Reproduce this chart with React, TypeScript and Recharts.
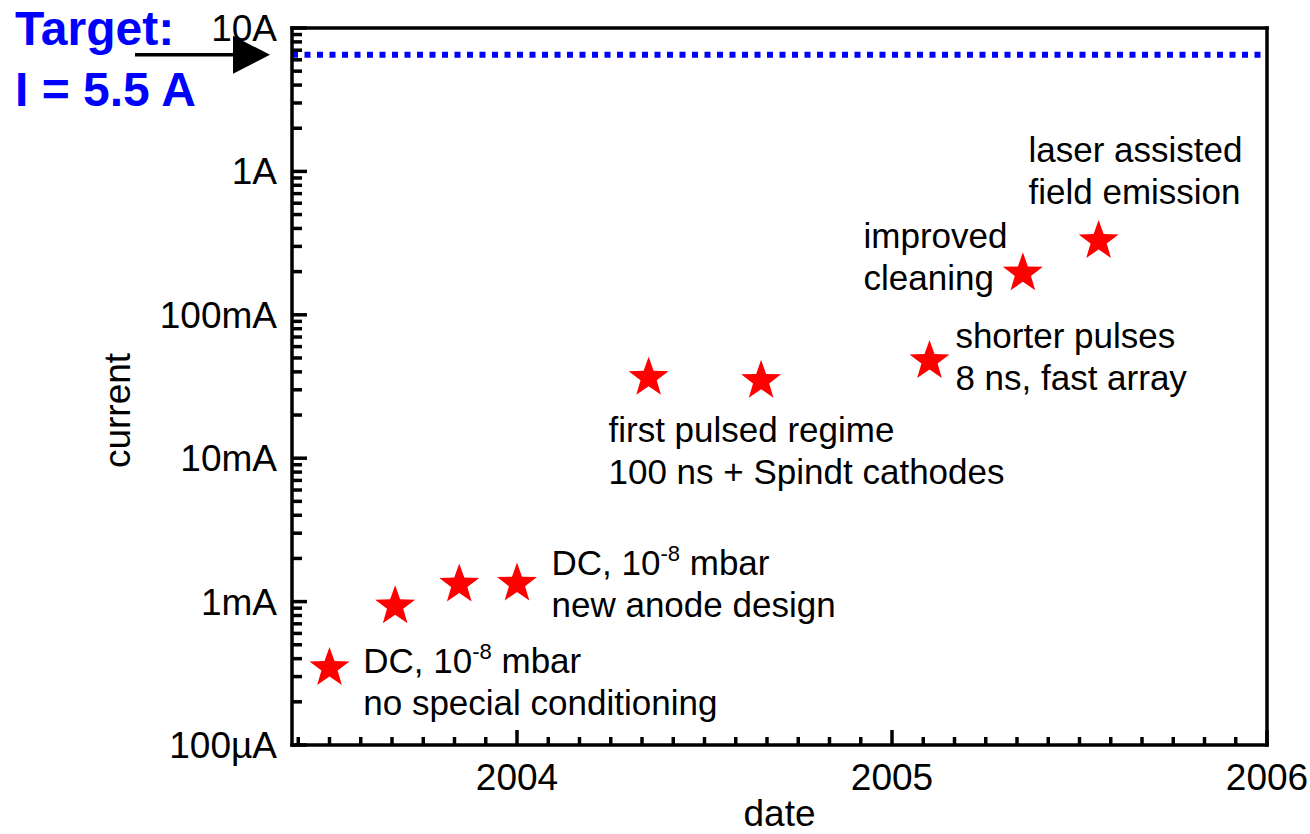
import { ScatterChart, Scatter, XAxis, YAxis, ReferenceLine } from 'recharts';

const FONT = '"Liberation Sans", Arial, Helvetica, sans-serif';

// measured points: date (decimal year) vs. current (A)
const dates = [2003.5, 2003.675, 2003.846, 2004.0, 2004.351, 2004.651, 2005.1, 2005.349, 2005.551];
const currents = [3.56e-4, 9.6e-4, 1.36e-3, 1.38e-3, 0.0376, 0.0358, 0.0492, 0.201, 0.338];

// annotations, anchored at left edge / first baseline
const noteDates = [2003.59, 2004.092, 2004.244, 2005.169, 2004.924, 2005.364];
const noteCurrents = [3.18e-4, 1.53e-3, 0.013, 0.0589, 0.294, 1.17];
const noteLines = [
  ['DC, 10^-8 mbar', 'no special conditioning'],
  ['DC, 10^-8 mbar', 'new anode design'],
  ['first pulsed regime', '100 ns + Spindt cathodes'],
  ['shorter pulses', '8 ns, fast array'],
  ['improved', 'cleaning'],
  ['laser assisted', 'field emission'],
];

const targetCurrent = 6.5;
const targetText = ['Target:', 'I = 5.5 A'];

const currentTicks = [1e-4, 1e-3, 1e-2, 0.1, 1, 10];
const currentTickLabels = ['100µA', '1mA', '10mA', '100mA', '1A', '10A'];
const yearTicks = [2004, 2005, 2006];
const yearTickLabels = ['2004', '2005', '2006'];

const minorCurrentTicks = currentTicks.slice(0, -1).flatMap((d) => [2, 3, 4, 5, 6, 7, 8, 9].map((m) => m * d));
const allCurrentTicks = [...currentTicks, ...minorCurrentTicks].sort((a, b) => a - b);
const monthTicks = Array.from({ length: 32 }, (_, i) => 2003 + (5 + i) / 12);

const points = dates.map((x, i) => ({ x, y: currents[i] }));
const notes = noteDates.map((x, i) => ({ x, y: noteCurrents[i], lines: noteLines[i] }));

const majorIndex = (v: number) => currentTicks.findIndex((t) => Math.abs(t - v) < t * 1e-6);
const yearIndex = (v: number) => yearTicks.findIndex((t) => Math.abs(t - v) < 1e-6);

const SW = 3.5;

function LeftTick({ x, y, payload }: any) {
  const i = majorIndex(payload.value);
  return (
    <g>
      <line x1={x} x2={x + (i >= 0 ? 15 : 10)} y1={y} y2={y} stroke="#000" strokeWidth={SW} />
      {i >= 0 && (
        <text x={x - 15} y={y + 13} textAnchor="end" fontSize={37} fontFamily={FONT} fill="#000">
          {currentTickLabels[i]}
        </text>
      )}
    </g>
  );
}

function RightTick({ x, y, payload }: any) {
  const i = majorIndex(payload.value);
  return <line x1={x} x2={x - (i >= 0 ? 15 : 10)} y1={y} y2={y} stroke="#000" strokeWidth={SW} />;
}

function BottomTick({ x, y, payload }: any) {
  const i = yearIndex(payload.value);
  return (
    <g>
      <line x1={x} x2={x} y1={y} y2={y - (i >= 0 ? 15 : 8)} stroke="#000" strokeWidth={SW} />
      {i >= 0 && (
        <text x={x} y={y + 45} textAnchor="middle" fontSize={37} fontFamily={FONT} fill="#000">
          {yearTickLabels[i]}
        </text>
      )}
    </g>
  );
}

function TopTick({ x, y, payload }: any) {
  const i = yearIndex(payload.value);
  return <line x1={x} x2={x} y1={y} y2={y + (i >= 0 ? 15 : 8)} stroke="#000" strokeWidth={SW} />;
}

function Star({ cx, cy }: any) {
  const R = 21;
  const r = 8.5;
  const c = cy + 2;
  const pts = Array.from({ length: 10 }, (_, k) => {
    const a = ((-90 + k * 36) * Math.PI) / 180;
    const rad = k % 2 ? r : R;
    return `${cx + rad * Math.cos(a)},${c + rad * Math.sin(a)}`;
  }).join(' ');
  return <polygon points={pts} fill="#ff0000" />;
}

function Line({ x, y, text }: any) {
  const m = text.match(/^(.*?)\^(\S+)(.*)$/);
  return (
    <text x={x} y={y} fontSize={35} fontFamily={FONT} fill="#000">
      {m ? (
        <>
          <tspan>{m[1]}</tspan>
          <tspan dy={-14} fontSize={22}>{m[2]}</tspan>
          <tspan dy={14}>{m[3]}</tspan>
        </>
      ) : (
        text
      )}
    </text>
  );
}

function Note({ cx, cy, payload }: any) {
  return (
    <g>
      {payload.lines.map((t: string, i: number) => (
        <Line key={i} x={cx} y={cy + i * 42} text={t} />
      ))}
    </g>
  );
}

function TargetMark({ viewBox }: any) {
  const { x, y } = viewBox;
  return (
    <g>
      <line x1={x - 157} x2={x - 58} y1={y} y2={y} stroke="#000" strokeWidth={SW} />
      <polygon points={`${x - 59},${y - 19} ${x - 22},${y} ${x - 59},${y + 19}`} fill="#000" />
      <text x={x - 277} y={y - 10} fontSize={48} fontWeight="bold" fontFamily={FONT} fill="#0000ff">
        {targetText[0]}
      </text>
      <text x={x - 277} y={y + 51} fontSize={48} fontWeight="bold" fontFamily={FONT} fill="#0000ff">
        {targetText[1]}
      </text>
    </g>
  );
}

function YLabel({ viewBox }: any) {
  const x = viewBox.x + 130;
  const y = viewBox.y + viewBox.height / 2 + 24;
  return (
    <text x={x} y={y} transform={`rotate(-90 ${x} ${y})`} textAnchor="middle" fontSize={37} fontFamily={FONT} fill="#000">
      current
    </text>
  );
}

function XLabel({ viewBox }: any) {
  const x = viewBox.x + viewBox.width / 2;
  const y = viewBox.y + viewBox.height - 8;
  return (
    <text x={x} y={y} textAnchor="middle" fontSize={37} fontFamily={FONT} fill="#000">
      date
    </text>
  );
}

const axisLine = { stroke: '#000', strokeWidth: SW, strokeLinecap: 'square' };

export default function App() {
  return (
    <div style={{ position: 'absolute', left: 0, top: 0 }}>
      <ScatterChart width={1310} height={834} margin={{ top: 0, right: 0, bottom: 0, left: 0 }}>
        <XAxis
          xAxisId="B"
          dataKey="x"
          type="number"
          domain={[2003.4, 2006]}
          ticks={monthTicks}
          interval={0}
          height={89}
          tickSize={0}
          tickMargin={0}
          tickLine={false}
          stroke="#000"
          strokeWidth={SW}
          axisLine={axisLine}
          tick={(p: any) => <BottomTick {...p} />}
          label={(p: any) => <XLabel {...p} />}
        />
        <XAxis
          xAxisId="T"
          orientation="top"
          dataKey="x"
          type="number"
          domain={[2003.4, 2006]}
          ticks={monthTicks}
          interval={0}
          height={28}
          tickSize={0}
          tickMargin={0}
          tickLine={false}
          stroke="#000"
          strokeWidth={SW}
          axisLine={axisLine}
          tick={(p: any) => <TopTick {...p} />}
        />
        <YAxis
          yAxisId="L"
          dataKey="y"
          type="number"
          scale="log"
          domain={[1e-4, 10]}
          ticks={allCurrentTicks}
          interval={0}
          width={292}
          tickSize={0}
          tickMargin={0}
          tickLine={false}
          stroke="#000"
          strokeWidth={SW}
          axisLine={axisLine}
          tick={(p: any) => <LeftTick {...p} />}
          label={(p: any) => <YLabel {...p} />}
        />
        <YAxis
          yAxisId="R"
          orientation="right"
          dataKey="y"
          type="number"
          scale="log"
          domain={[1e-4, 10]}
          ticks={allCurrentTicks}
          interval={0}
          width={43}
          tickSize={0}
          tickMargin={0}
          tickLine={false}
          stroke="#000"
          strokeWidth={SW}
          axisLine={axisLine}
          tick={(p: any) => <RightTick {...p} />}
        />
        <ReferenceLine
          xAxisId="B"
          yAxisId="L"
          y={targetCurrent}
          stroke="#0000ff"
          strokeWidth={6}
          strokeDasharray="6 6.5"
          label={(p: any) => <TargetMark {...p} />}
        />
        <Scatter
          xAxisId="B"
          yAxisId="L"
          data={notes}
          isAnimationActive={false}
          shape={(p: any) => <Note {...p} />}
        />
        <Scatter
          xAxisId="B"
          yAxisId="L"
          data={points}
          isAnimationActive={false}
          shape={(p: any) => <Star {...p} />}
        />
      </ScatterChart>
    </div>
  );
}
